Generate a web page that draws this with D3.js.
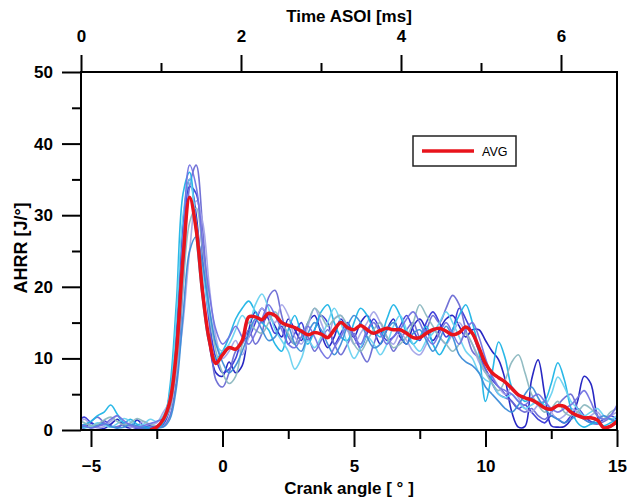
<!DOCTYPE html>
<html><head><meta charset="utf-8">
<script src="https://cdn.jsdelivr.net/npm/d3@7"></script>
<style>body{margin:0;background:#fff}svg{display:block}text{font-family:"Liberation Sans",Arial,sans-serif}</style>
</head><body><svg id="c" width="627" height="501"></svg>
<script>
// Crank angle grid (deg), step 0.25 from -5.5 to 15
const crankAngle = d3.range(83).map(i => -5.5 + 0.25 * i);
const yTicks = [0, 10, 20, 30, 40, 50];
const xTicks = [-5, 0, 5, 10, 15];
const msTicks = [0, 2, 4, 6];

const cycleColors = ["#1c1cc0", "#3838d8", "#6a6ad4", "#a4a4e8", "#1eb4e6", "#6ad2f0", "#8cb8c0", "#3c8cd8", "#7272e2"];

const cycleA = [0.5,0.3,1.0,0.4,0.2,0.8,1.5,0.6,0.3,1.4,
 0.6,0.2,0.5,1.5,5,14,29,35,30,20,
 12,8,7.5,9.5,8,9,14,16.5,15,16,
 14.5,13,15.5,14,12.5,15,16,13.5,11.5,13,
 15.5,14,13,15,16,14,12,14,15.5,13,
 12,14.5,15.5,14,12.5,14,15.5,16,14.5,13,
 14,14,12.5,11,9.8,7,2.5,0.4,0.5,7,
 9.8,5,0.6,0.4,0.5,1.5,4,7.5,6.5,2,
 0.4,0.6,1];
const cycleB = [1.2,1.8,1.0,0.5,1.3,0.6,0.3,0.9,0.5,0.2,
 0.4,0.6,0.3,0.8,3,10,24,34,33,24,
 15,10,8,8.5,10,12.5,13,15,17,15.5,
 13.5,14.5,12,13.5,15,12.5,14,16,15,12,
 13.5,15,13,11.5,13.5,15.5,14,12.5,13,14.5,
 16,14,12.5,15,16.5,15,13,14,17,15.5,
 13.5,11,8.5,7,6,5,4,3,3.5,2.5,
 1.5,1.0,2,1.5,1.0,2,3,2,1.2,1.0,
 1.5,2,1.5];
const cycleC = [0.3,0.6,1.2,1.8,1.0,0.4,0.5,0.8,0.6,0.3,
 0.2,0.4,0.3,0.5,2,7,20,34,37,28,
 16,7,6,8,11,12,14,12,13.5,18.5,
 19.5,16,13,12,14,13,11,12.5,14,12,
 10.5,12,13.5,11,9.5,12,14,13,11,12.5,
 14,15,13,14,16,15,17,18.8,17.5,14,
 11,10,8.5,6.5,5,4.5,4,3,2.5,3,
 2,1.5,2.5,3.5,4.5,5,3,1.5,1,0.8,
 1.2,1.6,1.0];
const cycleD = [0.8,1.5,0.7,0.3,0.5,1.2,2.0,1.0,0.4,0.6,
 1.2,0.8,1.0,2.5,4,8,15,25,32,29,
 20,13,10,11,12.5,10.5,13,15.5,17,16,
 15,17.5,16,13,12,14.5,17,15,13,15.5,
 16,14,12,13.5,15,16.5,15,13,12,13.5,
 12.5,11,10.5,12,14,13,12,13.5,15,13.5,
 12,9.5,8,7.5,6,5,6,4.5,3,2.5,
 3.5,4,2.5,1.5,2,3,2.5,1.5,2,2.5,
 1.5,2,2.5];
const cycleE = [0.4,0.8,1.2,2.0,2.5,3.5,2.2,1.0,1.5,0.8,
 0.5,0.3,0.2,1.0,6,18,33,36,27,18,
 12,10,11,13,15.5,17,18,16.5,15,14,
 12,11,14,16,13.5,12,14,16.5,17.5,15,
 13,12.5,15,17,16,14,13,15.5,17.5,16,
 13.5,12,13,14.5,12,10.5,12,14,16,17.5,
 15,11,4,8,12.3,10,6,5,4,4.5,
 3.5,4,6.5,9.4,7,3,1,0.4,0.8,1.0,
 0.6,1.0,1.5];
const cycleF = [0.6,0.3,0.5,1.0,0.7,0.4,0.9,1.6,1.2,0.5,
 0.8,1.5,1.2,2,5,16,30,35,29,22,
 16,12,11,12,14,16,15,17.5,19,17,
 14,12.5,11,8.5,10,12.5,11.5,13,15,17,
 15,12,10,11.5,13,12,10.5,12,14.5,16,
 14,12,11,12.5,13.5,15,16.5,15,13,11,
 10,8,7,6.5,5,4.5,5,4,3,3.5,
 4,3.5,5,7.4,6,4,3,2,2.5,3,
 2,1.5,2];
const cycleG = [1.5,1.0,0.6,0.8,1.4,1.8,1.2,0.7,1.0,1.6,
 1.2,0.8,0.6,1.2,3,9,20,29,31,25,
 17,11,8,6.5,7.5,12,15,14,13.5,15,
 16.5,15,13.5,12,13,15,17,16,14.5,15.5,
 16,14.5,12,11,12.5,14,15,13,11.5,12,
 13,15,17.5,16,14.5,13,12,11,12,13.5,
 12,10,8,6.5,5.5,7,9.5,10.5,8,5,
 3.5,2.5,3,4,2.5,2,2.5,3.5,3,2,
 1.5,2.5,3];
const cycleH = [0.2,0.5,0.3,0.6,0.9,0.5,0.3,0.4,0.8,0.6,
 0.3,0.2,0.3,0.4,1.5,6,16,25,27,23,
 17,12,9.5,8,9,11,13.5,15.5,14,12.5,
 13,15,14.5,12,11,13.5,15,14,12,10.5,
 12,14.5,16,15,13,11.5,12,14,15,13.5,
 12,13.5,14,12.5,11,12.5,14.5,13,10.5,9.5,
 9,8,6,5,4,3,2.5,3.5,5,6,
 4.5,3,2,1.5,1.0,1.5,2,1.5,1.0,1.5,
 2,1.5,1.0];
const cycleI = [1.0,0.6,0.3,0.5,0.8,1.5,2.0,1.3,0.7,0.4,
 0.6,0.9,1.2,1.6,3.5,12,27,37,34,26,
 19,14,12,13,14.5,13,12,13.5,15.5,17.5,
 16,14,12,11.5,13,14.5,13,11,10,11.5,
 13,14.5,13,12,14,15,13.5,12,13,14,
 15.5,16.5,15,13,12,13.5,15,13.5,12,14,
 15,13,10,7.5,6,5.5,5,4,3.5,4.5,
 5,4,3,2.5,3,3.5,4.5,5.5,4,2,
 1.5,2,3.5];
const cycles = [cycleA, cycleB, cycleC, cycleD, cycleE, cycleF, cycleG, cycleH, cycleI];

const avg = [null,null,null,null,null,null,null,null,null,null,
 null,0,0.4,1.5,4,11,24,32.5,28,19,
 12.5,9.3,10.5,11.5,11.3,12.5,15.8,15.8,15.4,16.3,
 16.0,15.0,14.6,14.3,13.8,13.3,13.6,13.4,12.9,14.0,
 15.0,14.3,14.0,14.6,14.0,13.5,13.9,14.2,14.0,14.0,
 13.5,12.9,12.9,13.5,14.0,14.2,13.8,13.3,13.6,14.4,
 13.5,11.5,9.3,8.0,7.3,6.7,5.8,4.9,4.5,4.2,
 3.7,3.1,2.9,3.4,3.3,2.5,2.0,1.7,1.7,1.4,
 0.3,0.5,1.2];

const svg = d3.select("#c");
const L = 81, R = 617, T = 72, B = 430;
const x = d3.scaleLinear().domain([-5.38, 15]).range([L, R]);
const xt = d3.scaleLinear().domain([0, 6.7]).range([L, R]);
const y = d3.scaleLinear().domain([0, 50]).range([B, T]);

svg.append("defs").append("clipPath").attr("id","clip")
  .append("rect").attr("x", L).attr("y", T).attr("width", R - L).attr("height", B - T);

const line = d3.line().defined(d => d[1] != null)
  .x(d => x(d[0])).y(d => y(d[1])).curve(d3.curveCatmullRom.alpha(0.5));

const g = svg.append("g").attr("clip-path", "url(#clip)");
cycles.forEach((c, k) => {
  g.append("path").attr("d", line(crankAngle.map((a, i) => [a, c[i]])))
    .attr("fill", "none").attr("stroke", cycleColors[k]).attr("stroke-width", 1.6).attr("stroke-opacity", 0.95);
});
g.append("path").attr("d", line(crankAngle.map((a, i) => [a, avg[i]])))
  .attr("fill", "none").attr("stroke", "#e8141c").attr("stroke-width", 3.5).attr("stroke-linejoin","round");

// axes
const font = 'bold 17px "Liberation Sans", Arial, sans-serif';
const yAx = d3.axisLeft(y).tickValues(yTicks).tickSize(19).tickPadding(9);
const yMinor = d3.axisLeft(y).tickValues([5,15,25,35,45]).tickSize(9).tickFormat("");
const xAx = d3.axisBottom(x).tickValues(xTicks).tickSize(17).tickPadding(13);
const xMinor = d3.axisBottom(x).tickValues([-2.5,2.5,7.5,12.5]).tickSize(9).tickFormat("");
const tAx = d3.axisTop(xt).tickValues(msTicks).tickSize(17).tickPadding(13).tickFormat(d3.format("d"));
const tMinor = d3.axisTop(xt).tickValues([1,3,5]).tickSize(9).tickFormat("");

function styleAxis(sel){
  sel.select(".domain").remove();
  sel.selectAll("line").attr("stroke","#000").attr("stroke-width",2);
  sel.selectAll("text").style("font", font).attr("fill","#000");
}
svg.append("g").attr("transform",`translate(${L},0)`).call(yAx).call(styleAxis);
svg.append("g").attr("transform",`translate(${L},0)`).call(yMinor).call(styleAxis);
svg.append("g").attr("transform",`translate(0,${B})`).call(xAx).call(styleAxis);
svg.append("g").attr("transform",`translate(0,${B})`).call(xMinor).call(styleAxis);
svg.append("g").attr("transform",`translate(0,${T})`).call(tAx).call(styleAxis);
svg.append("g").attr("transform",`translate(0,${T})`).call(tMinor).call(styleAxis);

svg.append("rect").attr("x", L).attr("y", T).attr("width", R - L).attr("height", B - T)
  .attr("fill","none").attr("stroke","#000").attr("stroke-width",2);

svg.append("text").attr("x", (L+R)/2).attr("y", 494).attr("text-anchor","middle")
  .style("font", font).text("Crank angle [ ° ]");
svg.append("text").attr("x", (L+R)/2).attr("y", 22).attr("text-anchor","middle")
  .style("font", font).text("Time ASOI [ms]");
svg.append("text").attr("transform",`translate(27,248) rotate(-90)`).attr("text-anchor","middle")
  .style("font", 'bold 18px "Liberation Sans", Arial, sans-serif').text("AHRR [J/°]");

// legend
const lg = svg.append("g");
lg.append("rect").attr("x",413).attr("y",136).attr("width",103).attr("height",30)
  .attr("fill","#fff").attr("stroke","#222").attr("stroke-width",1.5);
lg.append("line").attr("x1",422).attr("x2",474).attr("y1",151).attr("y2",151)
  .attr("stroke","#e8141c").attr("stroke-width",3.5);
lg.append("text").attr("x",482).attr("y",155.5).style("font",'12.5px "Liberation Sans", Arial, sans-serif').text("AVG");
</script></body></html>
